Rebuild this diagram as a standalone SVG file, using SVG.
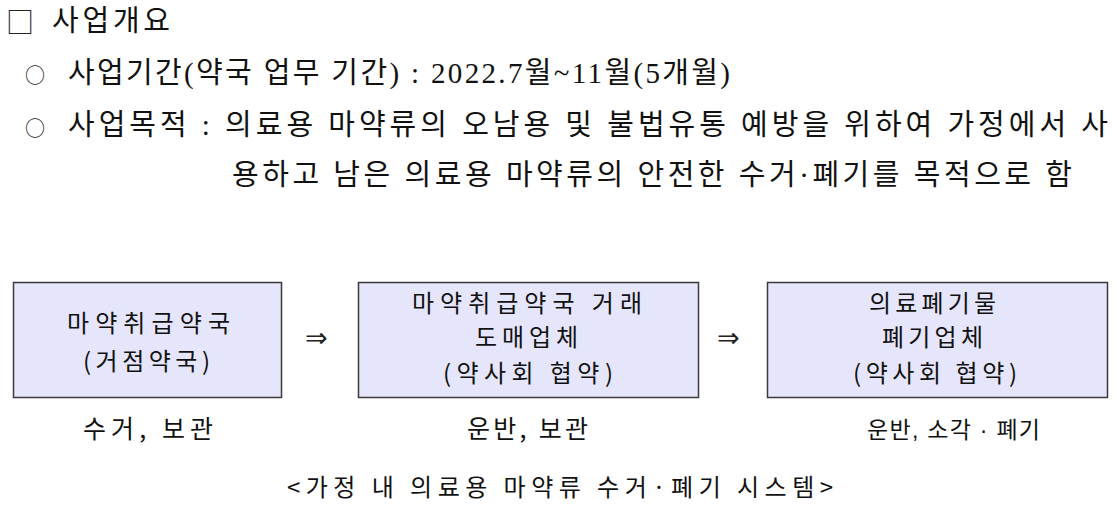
<svg xmlns="http://www.w3.org/2000/svg" width="1119" height="508" viewBox="0 0 1119 508">
<style>
.bg{fill:#ffffff}
.doc{font-family:"Liberation Serif","Noto Sans CJK KR",serif;font-size:29px;fill:#111111}
.mark{font-family:"Noto Sans CJK KR",sans-serif;fill:#222222}
.box{fill:#e5e5fb;stroke:#3a3a3a;stroke-width:1.5}
.bt{font-family:"Noto Sans CJK KR",sans-serif;font-size:24px;fill:#111111}
.lbl{font-family:"Noto Sans CJK KR",sans-serif;font-size:25px;fill:#111111}
.lbl2{font-family:"Liberation Sans","Noto Sans CJK KR",sans-serif;font-size:23px;fill:#111111}
.arr{font-family:"DejaVu Sans",sans-serif;font-size:27px;fill:#222222}
.cap{font-family:"Noto Sans CJK KR",sans-serif;font-size:24px;fill:#111111}
</style>
<rect class="bg" x="0" y="0" width="1119" height="508"/>
<g id="overview">
<text class="mark" x="6" y="33" font-size="28">□</text>
<text class="doc" x="52" y="31" textLength="118" lengthAdjust="spacing">사업개요</text>
<text class="mark" x="25" y="83" font-size="20">○</text>
<text class="doc" x="68" y="83" textLength="662" lengthAdjust="spacing">사업기간(약국 업무 기간) : 2022.7월~11월(5개월)</text>
<text class="mark" x="25" y="136" font-size="20">○</text>
<text class="doc" x="68" y="135" textLength="1040" lengthAdjust="spacing">사업목적 : 의료용 마약류의 오남용 및 불법유통 예방을 위하여 가정에서 사</text>
<text class="doc" x="232" y="185" textLength="840" lengthAdjust="spacing">용하고 남은 의료용 마약류의 안전한 수거·폐기를 목적으로 함</text>
</g>
<g id="node-pharmacy">
<rect class="box" x="13.5" y="282.5" width="268" height="115"/>
<text class="bt" x="67" y="332" textLength="163" lengthAdjust="spacing">마약취급약국</text>
<text class="bt" x="83" y="370" textLength="127" lengthAdjust="spacing">(거점약국)</text>
<text class="lbl" x="83" y="438" textLength="130" lengthAdjust="spacing">수거, 보관</text>
</g>
<g id="node-wholesaler">
<rect class="box" x="358.5" y="282.5" width="340" height="115"/>
<text class="bt" x="412" y="312" textLength="230" lengthAdjust="spacing">마약취급약국 거래</text>
<text class="bt" x="475" y="346" textLength="103" lengthAdjust="spacing">도매업체</text>
<text class="bt" x="443" y="382" textLength="170" lengthAdjust="spacing">(약사회 협약)</text>
<text class="lbl" x="467" y="438" textLength="121" lengthAdjust="spacing">운반, 보관</text>
</g>
<g id="node-disposal">
<rect class="box" x="767.5" y="282.5" width="340" height="115"/>
<text class="bt" x="869" y="312" textLength="127" lengthAdjust="spacing">의료폐기물</text>
<text class="bt" x="882" y="346" textLength="101" lengthAdjust="spacing">폐기업체</text>
<text class="bt" x="853" y="382" textLength="164" lengthAdjust="spacing">(약사회 협약)</text>
<text class="lbl2" x="867" y="438" textLength="173" lengthAdjust="spacing">운반, 소각 · 폐기</text>
</g>
<g id="connectors">
<text class="arr" x="305" y="347">⇒</text>
<text class="arr" x="717" y="347">⇒</text>
</g>
<g id="caption">
<text class="cap" x="287" y="496" textLength="546" lengthAdjust="spacing">&lt;가정 내 의료용 마약류 수거·폐기 시스템&gt;</text>
</g>
</svg>
